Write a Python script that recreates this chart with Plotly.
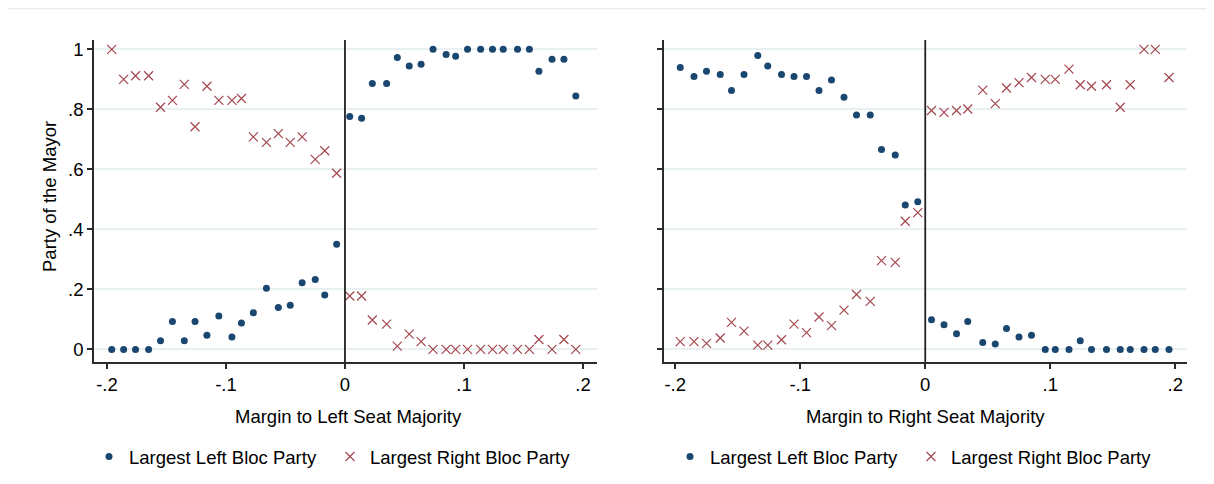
import plotly.graph_objects as go

# ---- data ----
left_x = [-0.196, -0.186, -0.176, -0.165, -0.155, -0.145, -0.135, -0.126, -0.116, -0.106,
          -0.095, -0.087, -0.077, -0.066, -0.056, -0.046, -0.036, -0.025, -0.017, -0.007,
          0.004, 0.014, 0.023, 0.035, 0.044, 0.054, 0.064, 0.074, 0.085, 0.093,
          0.103, 0.114, 0.124, 0.133, 0.145, 0.155, 0.163, 0.174, 0.184, 0.194]
left_blue = [0, 0, 0, 0, 0.029, 0.093, 0.029, 0.093, 0.047, 0.111,
             0.041, 0.088, 0.122, 0.204, 0.140, 0.147, 0.222, 0.233, 0.181, 0.35,
             0.776, 0.77, 0.886, 0.886, 0.973, 0.944, 0.95, 1.0, 0.983, 0.977,
             1, 1, 1, 1, 1, 1, 0.927, 0.967, 0.967, 0.844]
left_red = [1.0, 0.9, 0.912, 0.912, 0.807, 0.83, 0.883, 0.742, 0.877, 0.83,
            0.83, 0.836, 0.708, 0.69, 0.719, 0.69, 0.708, 0.633, 0.662, 0.587,
            0.178, 0.178, 0.098, 0.084, 0.011, 0.051, 0.026, 0, 0, 0,
            0, 0, 0, 0, 0, 0, 0.033, 0, 0.033, 0]

right_x = [-0.196, -0.185, -0.175, -0.164, -0.155, -0.145, -0.134, -0.126, -0.115, -0.105,
           -0.095, -0.085, -0.075, -0.065, -0.055, -0.044, -0.035, -0.024, -0.016, -0.006,
           0.005, 0.015, 0.025, 0.034, 0.046, 0.056, 0.065, 0.075, 0.085, 0.096,
           0.104, 0.115, 0.124, 0.133, 0.145, 0.156, 0.164, 0.175, 0.184, 0.195]
right_blue = [0.939, 0.909, 0.927, 0.916, 0.863, 0.916, 0.979, 0.944, 0.916, 0.909,
              0.909, 0.863, 0.898, 0.84, 0.781, 0.781, 0.666, 0.648, 0.481, 0.492,
              0.099, 0.082, 0.052, 0.093, 0.023, 0.018, 0.07, 0.041, 0.047, 0,
              0, 0, 0.029, 0, 0, 0, 0, 0, 0, 0]
right_red = [0.026, 0.026, 0.02, 0.038, 0.09, 0.061, 0.014, 0.014, 0.032, 0.084,
             0.056, 0.108, 0.079, 0.131, 0.183, 0.16, 0.296, 0.29, 0.427, 0.456,
             0.796, 0.79, 0.796, 0.801, 0.864, 0.819, 0.871, 0.889, 0.906, 0.9,
             0.9, 0.934, 0.882, 0.877, 0.882, 0.807, 0.882, 1.0, 1.0, 0.906]

x_tickvals = [-0.2, -0.1, 0, 0.1, 0.2]
x_ticktext = ["-.2", "-.1", "0", ".1", ".2"]
y_tickvals = [0, 0.2, 0.4, 0.6, 0.8, 1]
y_ticktext = ["0", ".2", ".4", ".6", ".8", "1"]

series_names = ["Largest Left Bloc Party", "Largest Right Bloc Party"]
x_titles = ["Margin to Left Seat Majority", "Margin to Right Seat Majority"]
y_title = "Party of the Mayor"

# ---- style ----
OFF = 8  # page body margin
W, H = 1214 - OFF, 484 - OFF
BLUE = "#1a476f"
RED = "#a3474e"
GRID = "#e8f0f1"
AXC = "#2b2b2b"
FONT = "Liberation Sans, Arial, sans-serif"
FS = 18.5


def px_x(p):
    return (p - OFF) / W


def px_y(p):
    return 1 - (p - OFF) / H


fig = go.Figure()

blue_marker = dict(symbol="circle", size=7, color=BLUE)
red_marker = dict(symbol="x-thin-open", size=9, color=RED, line=dict(color=RED, width=1.2))

fig.add_trace(go.Scatter(x=left_x, y=left_blue, mode="markers", name=series_names[0],
                         marker=blue_marker, xaxis="x", yaxis="y", legend="legend"))
fig.add_trace(go.Scatter(x=left_x, y=left_red, mode="markers", name=series_names[1],
                         marker=red_marker, xaxis="x", yaxis="y", legend="legend"))
fig.add_trace(go.Scatter(x=right_x, y=right_blue, mode="markers", name=series_names[0],
                         marker=blue_marker, xaxis="x2", yaxis="y2", legend="legend2"))
fig.add_trace(go.Scatter(x=right_x, y=right_red, mode="markers", name=series_names[1],
                         marker=red_marker, xaxis="x2", yaxis="y2", legend="legend2"))

ydom = [px_y(362), px_y(40)]
common_x = dict(tickmode="array", tickvals=x_tickvals, ticktext=x_ticktext,
                showgrid=False, zeroline=False, showline=True, linecolor=AXC, linewidth=1.5,
                ticks="outside", ticklen=5, tickwidth=1.5, tickcolor=AXC,
                tickfont=dict(family=FONT, size=FS, color="#000"))
common_y = dict(tickmode="array", tickvals=y_tickvals, ticktext=y_ticktext,
                showgrid=True, gridcolor=GRID, gridwidth=1.5, zeroline=False,
                showline=True, linecolor=AXC, linewidth=1.5,
                ticks="outside", ticklen=5, tickwidth=1.5, tickcolor=AXC,
                tickfont=dict(family=FONT, size=FS, color="#000"),
                range=[-0.042, 1.031], domain=ydom)

fig.update_layout(
    width=W, height=H,
    margin=dict(l=0, r=0, t=0, b=0),
    paper_bgcolor="white", plot_bgcolor="white",
    font=dict(family=FONT, size=FS, color="#000"),
    xaxis=dict(domain=[px_x(94), px_x(597)], range=[-0.2109, 0.2118], anchor="y", **common_x),
    xaxis2=dict(domain=[px_x(664), px_x(1187)], range=[-0.209, 0.2094], anchor="y2", **common_x),
    yaxis=dict(anchor="x", **common_y),
    yaxis2=dict(anchor="x2", showticklabels=False, **common_y),
    legend=dict(orientation="h", x=px_x(89), xanchor="left", y=px_y(457), yanchor="middle",
                font=dict(family=FONT, size=FS, color="#000"), entrywidth=196,
                bgcolor="rgba(0,0,0,0)"),
    legend2=dict(orientation="h", x=px_x(670), xanchor="left", y=px_y(457), yanchor="middle",
                 font=dict(family=FONT, size=FS, color="#000"), entrywidth=196,
                 bgcolor="rgba(0,0,0,0)"),
    showlegend=True,
)

# zero reference lines
for xr, yr in [("x", "y domain"), ("x2", "y2 domain")]:
    fig.add_shape(type="line", xref=xr, yref=yr, x0=0, x1=0, y0=0, y1=1,
                  line=dict(color="#222", width=1.8), layer="above")

# faint top border line
fig.add_shape(type="line", xref="paper", yref="paper", x0=0, x1=1, y0=0.999, y1=0.999,
              line=dict(color="#e3ecec", width=1.5))

# axis titles
fig.add_annotation(text=x_titles[0], xref="paper", yref="paper", x=px_x(348), y=px_y(416),
                   showarrow=False, xanchor="center", yanchor="middle",
                   font=dict(family=FONT, size=FS, color="#000"))
fig.add_annotation(text=x_titles[1], xref="paper", yref="paper", x=px_x(925), y=px_y(416),
                   showarrow=False, xanchor="center", yanchor="middle",
                   font=dict(family=FONT, size=FS, color="#000"))
fig.add_annotation(text=y_title, xref="paper", yref="paper", x=px_x(50), y=px_y(197),
                   showarrow=False, xanchor="center", yanchor="middle", textangle=-90,
                   font=dict(family=FONT, size=FS, color="#000"))

fig.write_html("out.html")
